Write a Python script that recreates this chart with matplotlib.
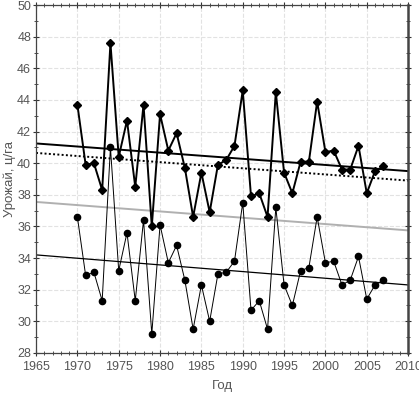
import matplotlib
matplotlib.use("Agg")
import matplotlib.pyplot as plt
from matplotlib.ticker import MultipleLocator

years = list(range(1970, 2008))

# upper series (diamonds)
yield_upper = [43.7, 39.9, 40.0, 38.3, 47.6, 40.4, 42.7, 38.5, 43.7, 36.0,
               43.1, 40.8, 41.9, 39.7, 36.6, 39.4, 36.9, 39.9, 40.2, 41.1,
               44.6, 37.9, 38.1, 36.6, 44.5, 39.4, 38.1, 40.1, 40.1, 43.9,
               40.7, 40.8, 39.6, 39.6, 41.1, 38.1, 39.5, 39.8]

# lower series (circles)
yield_lower = [36.6, 32.9, 33.1, 31.3, 41.0, 33.2, 35.6, 31.3, 36.4, 29.2,
               36.1, 33.7, 34.8, 32.6, 29.5, 32.3, 30.0, 33.0, 33.1, 33.8,
               37.5, 30.7, 31.3, 29.5, 37.2, 32.3, 31.0, 33.2, 33.4, 36.6,
               33.7, 33.8, 32.3, 32.6, 34.1, 31.4, 32.3, 32.6]

# trend lines: values at 1965 and 2010
trend_x = [1965, 2010]
trend_upper = [41.25, 39.5]
trend_dotted = [40.65, 38.9]
trend_gray = [37.55, 35.75]
trend_lower = [34.2, 32.3]

plt.rcParams['font.family'] = ['Liberation Sans', 'DejaVu Sans']
txt = '#555555'

fig = plt.figure(figsize=(4.19, 3.93), dpi=100)
ax = fig.add_axes([0.086, 0.102, 0.888, 0.885])

ax.plot(trend_x, trend_gray, color='#b0b0b0', lw=1.4, zorder=2)
ax.plot(trend_x, trend_dotted, color='black', lw=1.4, ls=(0, (1, 1.2)), zorder=2)
ax.plot(trend_x, trend_upper, color='black', lw=1.4, zorder=2)
ax.plot(trend_x, trend_lower, color='black', lw=0.9, zorder=2)

ax.plot(years, yield_lower, color='black', lw=0.7, marker='o', ms=4.5, zorder=3)
ax.plot(years, yield_upper, color='black', lw=1.4, marker='D', ms=3.6, zorder=4)

ax.set_xlim(1965, 2010)
ax.set_ylim(28, 50)
ax.xaxis.set_major_locator(MultipleLocator(5))
ax.xaxis.set_minor_locator(MultipleLocator(1))
ax.yaxis.set_major_locator(MultipleLocator(2))
ax.yaxis.set_minor_locator(MultipleLocator(1))
ax.tick_params(which='both', direction='inout', top=True, right=True,
               colors='#333333', labelcolor=txt, labelsize=9)
ax.tick_params(which='major', length=4)
ax.tick_params(which='minor', length=2.5)
ax.tick_params(axis='x', pad=4)
ax.tick_params(axis='y', pad=1.5)
ax.grid(True, which='major', color='#e2e2e2', lw=0.8, ls='--')
for s in ax.spines.values():
    s.set_color('#444444')
    s.set_linewidth(0.9)
ax.spines['right'].set_linewidth(1.8)

ax.set_xlabel('Год', color=txt, fontsize=9.5, labelpad=5)
ax.set_ylabel('Урожай, ц/га', color=txt, fontsize=9.5, labelpad=1)

fig.savefig('out.png', dpi=100)
